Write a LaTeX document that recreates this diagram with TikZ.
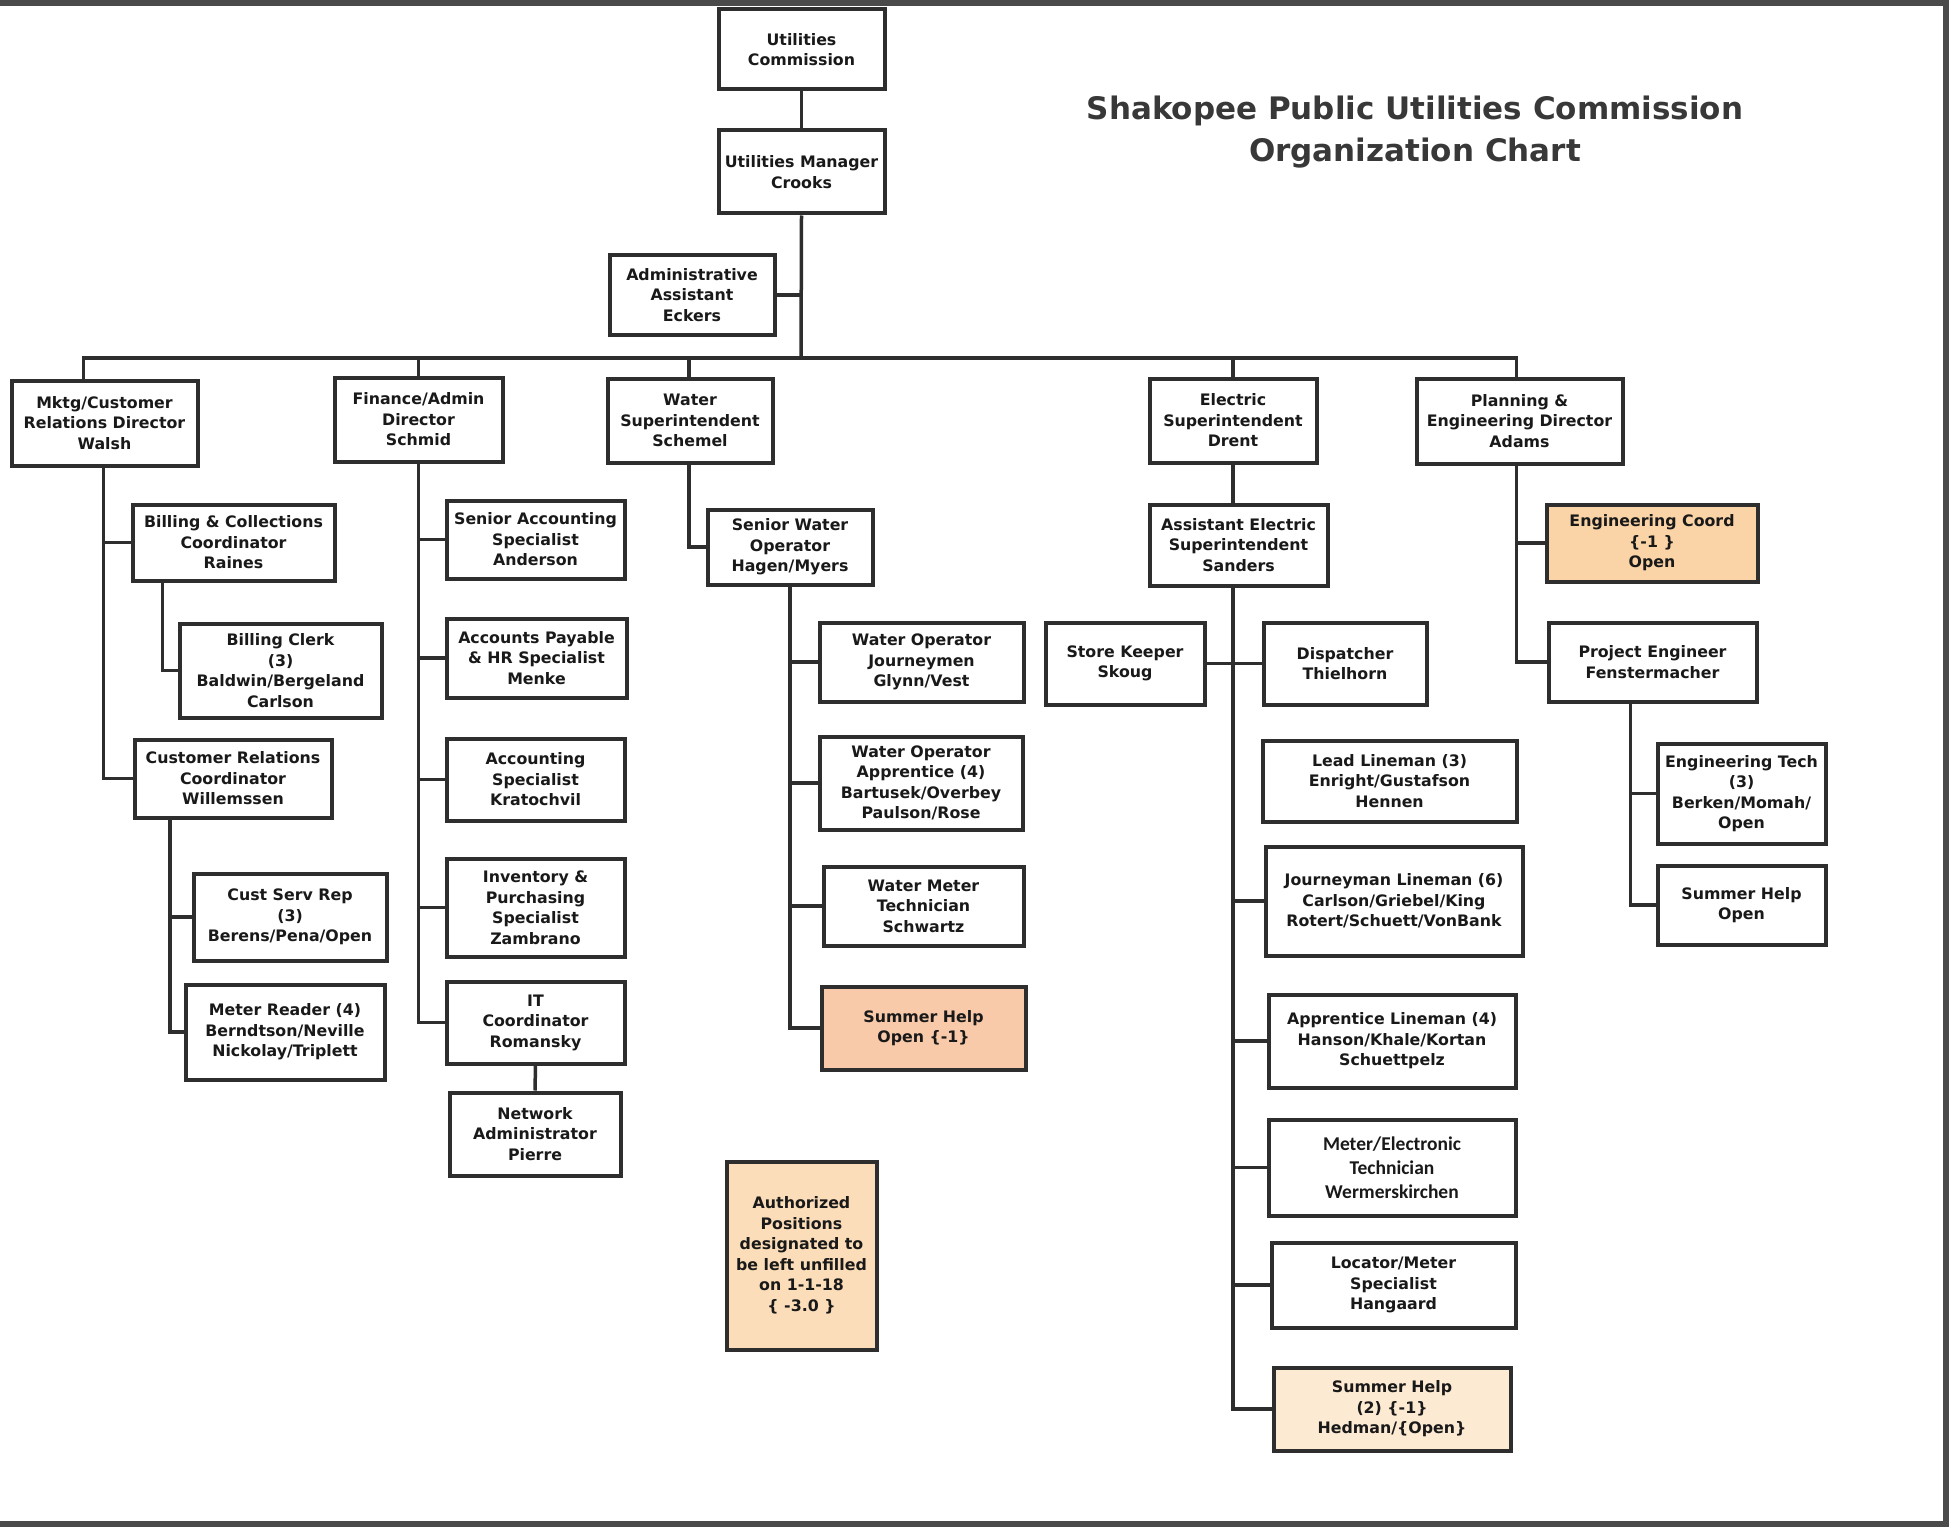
\documentclass[tikz,border=0pt]{standalone}
\usepackage{fontspec}
\newfontfamily\chartfont{DejaVu Sans}
\newfontfamily\calfont{Carlito}
\definecolor{framegray}{HTML}{4A4A4A}
\definecolor{linegray}{HTML}{2E2E2E}
\definecolor{salmon}{HTML}{F8CAAA}
\definecolor{peach}{HTML}{FAD3A6}
\definecolor{apricot}{HTML}{FBDDB9}
\definecolor{cream}{HTML}{FDEAD3}
\tikzset{
  orgbox/.style={draw=linegray, line width=4pt, fill=white, align=center, inner sep=2pt,
    text=black!90, font=\chartfont\bfseries\fontsize{15.8pt}{20.5pt}\selectfont},
  wh/.style 2 args={minimum width=#1, minimum height=#2},
  link/.style={draw=linegray, line width=3.5pt},
}
\begin{document}
\begin{tikzpicture}[x=1pt,y=-1pt]
  \useasboundingbox (0,0) rectangle (1951,1530);
  \fill[white] (0,0) rectangle (1951,1530);
  \draw[framegray, line width=6pt] (0,3) -- (1946,3) -- (1946,1524) -- (0,1524);

  \node[text=black!78, align=center, font=\chartfont\bfseries\fontsize{31pt}{42pt}\selectfont] (title) at (1415,132)
    {Shakopee Public Utilities Commission\\Organization Chart};

  \coordinate (bus) at (801,358);

  % top of the chart
  \node[orgbox, wh={166}{80}] (comm) at (801.5,49.5) {Utilities\\Commission};
  \node[orgbox, wh={166}{83}] (mgr) at (801.5,172) {Utilities Manager\\Crooks};
  \node[orgbox, wh={165}{79}] (asst) at (692,295) {Administrative\\Assistant\\Eckers};

  \node[orgbox, wh={186}{85}] (mktg) at (104.5,423) {Mktg/Customer\\Relations Director\\Walsh};
  \node[orgbox, wh={168}{84}] (fin) at (418.5,419.5) {Finance/Admin\\Director\\Schmid};
  \node[orgbox, wh={165}{84}] (water) at (690,420.5) {Water\\Superintendent\\Schemel};
  \node[orgbox, wh={167}{84}] (elec) at (1233,420.5) {Electric\\Superintendent\\Drent};
  \node[orgbox, wh={206}{85}] (plan) at (1519.5,421) {Planning \&\\Engineering Director\\Adams};

  % marketing
  \node[orgbox, wh={202}{76}] (bill) at (233.5,542.5) {Billing \& Collections\\Coordinator\\Raines};
  \node[orgbox, wh={202}{94}] (clerk) at (280.5,670.5) {Billing Clerk\\(3)\\Baldwin/Bergeland\\Carlson};
  \node[orgbox, wh={197}{78}] (custrel) at (233,778.5) {Customer Relations\\Coordinator\\Willemssen};
  \node[orgbox, wh={193}{87}] (csr) at (290,917) {Cust Serv Rep\\(3)\\Berens/Pena/Open};
  \node[orgbox, wh={199}{95}] (meter) at (285,1032) {Meter Reader (4)\\Berndtson/Neville\\Nickolay/Triplett};

  % finance
  \node[orgbox, wh={178}{78}] (sracct) at (535.5,539.5) {Senior Accounting\\Specialist\\Anderson};
  \node[orgbox, wh={180}{79}] (ap) at (536.5,658) {Accounts Payable\\\& HR Specialist\\Menke};
  \node[orgbox, wh={178}{82}] (acct) at (535.5,779.5) {Accounting\\Specialist\\Kratochvil};
  \node[orgbox, wh={178}{98}] (inv) at (535.5,907.5) {Inventory \&\\Purchasing\\Specialist\\Zambrano};
  \node[orgbox, wh={178}{82}] (it) at (535.5,1022.5) {IT\\Coordinator\\Romansky};
  \node[orgbox, wh={171}{83}] (net) at (535,1134) {Network\\Administrator\\Pierre};

  % water
  \node[orgbox, wh={165}{75}] (srwater) at (790,547) {Senior Water\\Operator\\Hagen/Myers};
  \node[orgbox, wh={204}{79}] (wojour) at (921.5,662) {Water Operator\\Journeymen\\Glynn/Vest};
  \node[orgbox, wh={203}{93}] (woapp) at (921,783) {Water Operator\\Apprentice (4)\\Bartusek/Overbey\\Paulson/Rose};
  \node[orgbox, wh={200}{79}] (wmeter) at (923.5,906) {Water Meter\\Technician\\Schwartz};
  \node[orgbox, fill=salmon, wh={204}{83}] (wsummer) at (923.5,1028) {Summer Help\\Open \{-1\}};

  \node[orgbox, fill=apricot, inner sep=1pt, wh={150}{188}] (auth) at (801.5,1255.5)
    {Authorized\\Positions\\designated to\\be left unfilled\\on 1-1-18\\\{ -3.0 \}};

  % electric
  \node[orgbox, wh={178}{81}] (asstelec) at (1238.5,545) {Assistant Electric\\Superintendent\\Sanders};
  \node[orgbox, wh={159}{82}] (store) at (1125,663.5) {Store Keeper\\Skoug};
  \node[orgbox, wh={163}{82}] (disp) at (1345,663.5) {Dispatcher\\Thielhorn};
  \node[orgbox, wh={254}{81}] (lead) at (1389.5,781) {Lead Lineman (3)\\Enright/Gustafson\\Hennen};
  \node[orgbox, wh={257}{109}] (journ) at (1394,901) {Journeyman Lineman (6)\\Carlson/Griebel/King\\Rotert/Schuett/VonBank};
  \node[orgbox, wh={247}{93}] (appl) at (1392,1041) {Apprentice Lineman (4)\\Hanson/Khale/Kortan\\Schuettpelz};
  \node[orgbox, wh={247}{96}, font=\calfont\bfseries\fontsize{19.5pt}{24pt}\selectfont] (mtech) at (1392,1167.5)
    {Meter/Electronic\\Technician\\Wermerskirchen};
  \node[orgbox, wh={244}{85}] (locator) at (1393.5,1285) {Locator/Meter\\Specialist\\Hangaard};
  \node[orgbox, fill=cream, wh={237}{83}] (esummer) at (1392,1409) {Summer Help\\(2) \{-1\}\\Hedman/\{Open\}};

  % planning
  \node[orgbox, fill=peach, wh={211}{77}] (engcoord) at (1652,543) {Engineering Coord\\\{-1 \}\\Open};
  \node[orgbox, wh={208}{79}] (projeng) at (1652.5,662) {Project Engineer\\Fenstermacher};
  \node[orgbox, wh={168}{100}] (engtech) at (1741.5,793.5) {Engineering Tech\\(3)\\Berken/Momah/\\Open};
  \node[orgbox, wh={168}{79}] (psummer) at (1741.5,905) {Summer Help\\Open};

  % connectors
  \draw[link] (comm.south) -- (mgr.north);
  \draw[link] (mgr.south) -- (bus);
  \draw[link] (asst.east) -- (asst.east -| bus);
  \draw[link] ([xshift=-21pt]mktg.north) |- (bus) -| ([xshift=-3pt]plan.north);
  \draw[link] (fin.north) -- (fin.north |- bus);
  \draw[link] ([xshift=-1pt]water.north) -- ([xshift=-1pt]water.north |- bus);
  \draw[link] (elec.north) -- (elec.north |- bus);

  \coordinate (mktgtrunk) at ([xshift=-1pt]mktg.south);
  \draw[link] (mktgtrunk) |- (custrel.west);
  \draw[link] (bill.west) -- (bill.west -| mktgtrunk);
  \draw[link] ([xshift=-71pt]bill.south) |- (clerk.west);
  \coordinate (crtrunk) at ([xshift=-63pt]custrel.south);
  \draw[link] (crtrunk) |- (meter.west);
  \draw[link] (csr.west) -- (csr.west -| crtrunk);

  \draw[link] (fin.south) |- (it.west);
  \foreach \n in {sracct,ap,acct,inv}
    \draw[link] (\n.west) -- (\n.west -| fin.south);
  \draw[link] (it.south) -- (net.north);

  \draw[link] ([xshift=-1pt]water.south) |- (srwater.west);
  \draw[link] (srwater.south) |- (wsummer.west);
  \foreach \n in {wojour,woapp,wmeter}
    \draw[link] (\n.west) -- (\n.west -| srwater.south);

  \draw[link] (elec.south) -- (elec.south |- asstelec.north);
  \coordinate (eltrunk) at (elec.south |- asstelec.south);
  \draw[link] (eltrunk) |- (esummer.west);
  \draw[link] (store.east) -- (store.east -| eltrunk);
  \foreach \n in {disp,journ,appl,mtech,locator}
    \draw[link] (\n.west) -- (\n.west -| eltrunk);

  \coordinate (plantrunk) at ([xshift=-3pt]plan.south);
  \draw[link] (plantrunk) |- (projeng.west);
  \draw[link] (engcoord.west) -- (engcoord.west -| plantrunk);
  \coordinate (petrunk) at ([xshift=-22pt]projeng.south);
  \draw[link] (petrunk) |- (psummer.west);
  \draw[link] (engtech.west) -- (engtech.west -| petrunk);
\end{tikzpicture}
\end{document}
